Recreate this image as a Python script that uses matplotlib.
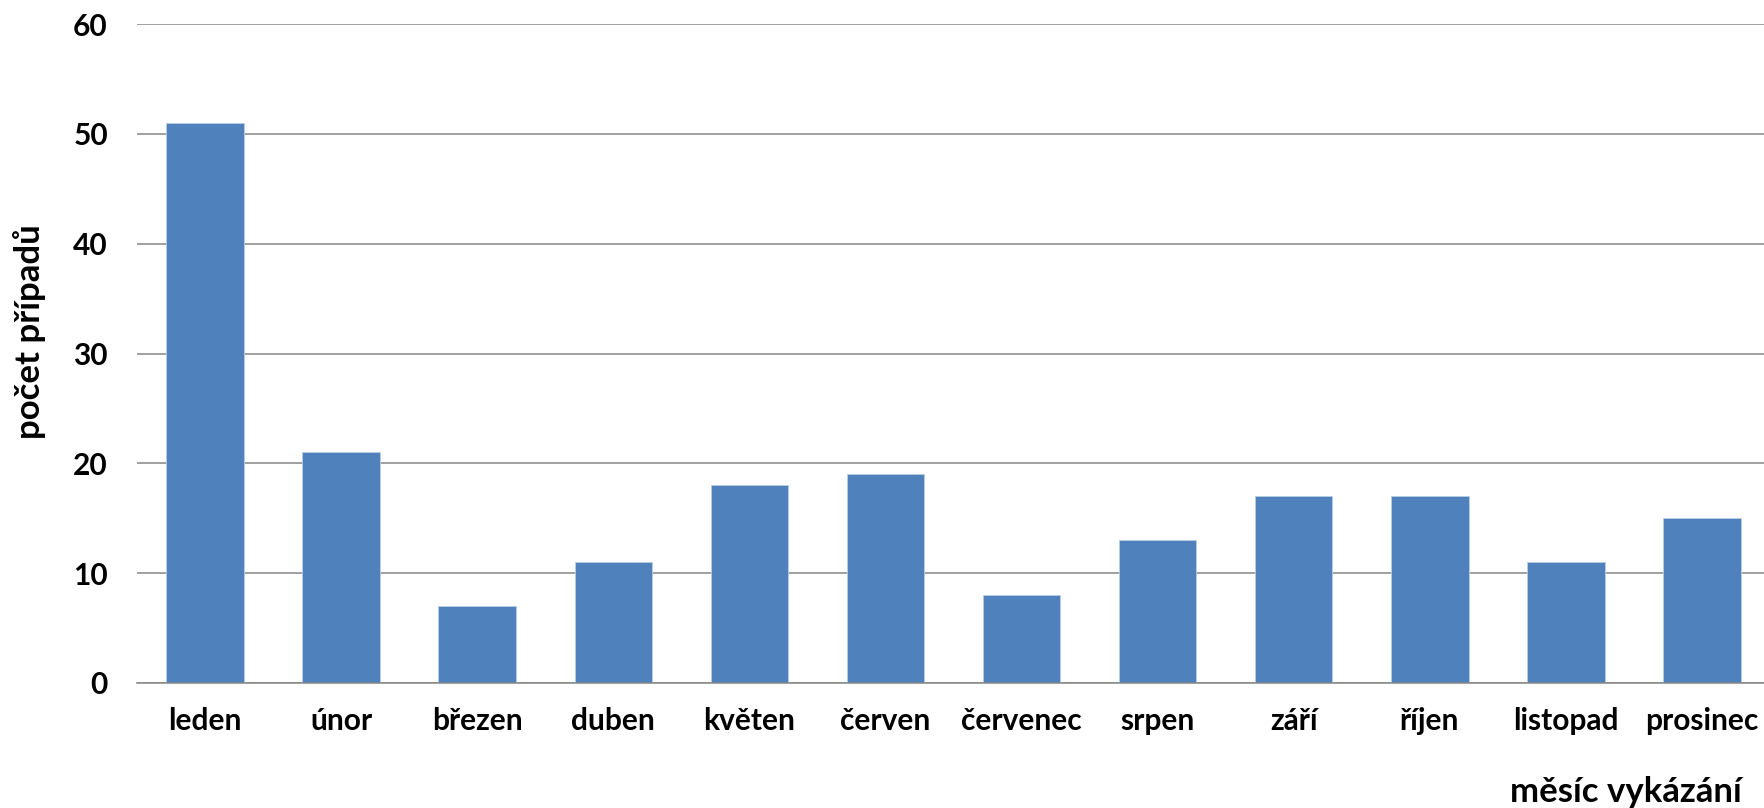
#!/usr/bin/env python3
"""Monthly case counts, bar chart (Excel-style)."""

import matplotlib
matplotlib.use("Agg")
import matplotlib.pyplot as plt
import numpy as np

# ── Data ───────────────────────────────────────────────────────────────────────

MONTHS = ["leden", "únor", "březen", "duben", "květen", "červen",
          "červenec", "srpen", "září", "říjen", "listopad", "prosinec"]
CASES = [51, 21, 7, 11, 18, 19, 8, 13, 17, 17, 11, 15]
Y_TICKS = [0, 10, 20, 30, 40, 50, 60]

BAR_COLOR = "#4F81BD"
GRID_COLOR = "#868686"
OUTPUT_PATH = "out.png"

plt.rcParams["font.family"] = ["Lato", "DejaVu Sans"]
plt.rcParams["font.weight"] = "bold"


def main():
    fig = plt.figure(figsize=(17.64, 8.08), dpi=100)
    # axes box in pixels: left 137, top 24, bottom 683, width ~1633
    ax = fig.add_axes([137 / 1764, 1 - 683 / 808, 1633 / 1764, 659 / 808])

    x = np.arange(len(MONTHS))
    ax.bar(x, CASES, 0.57, color=BAR_COLOR, edgecolor="#B9CDE5",
           linewidth=0.6, zorder=3)

    ax.set_xlim(-0.5, len(MONTHS) - 0.5)
    ax.set_ylim(0, 60)
    ax.set_yticks(Y_TICKS)
    ax.yaxis.grid(True, color=GRID_COLOR, linewidth=1.1, zorder=0)

    ax.set_xticks(x)
    ax.set_xticklabels(MONTHS, fontsize=21.5, fontweight="bold")
    ax.tick_params(axis="y", labelsize=21.5, length=0, pad=21)
    ax.tick_params(axis="x", length=0, pad=17)

    for side in ["top", "right", "left"]:
        ax.spines[side].set_visible(False)
    ax.spines["bottom"].set_color(GRID_COLOR)
    ax.spines["bottom"].set_linewidth(1.1)
    ax.spines["bottom"].set_zorder(4)

    ax.set_xlabel("měsíc vykázání", fontsize=25, fontweight="bold",
                  ha="right", va="center")
    ax.xaxis.set_label_coords(1605 / 1633, -109 / 659)
    ax.set_ylabel("počet případů", fontsize=25, fontweight="bold",
                  va="center", ha="center")
    ax.yaxis.set_label_coords(-107 / 1633, 351 / 659)

    fig.savefig(OUTPUT_PATH, dpi=100)
    print(f"Saved to {OUTPUT_PATH}")


if __name__ == "__main__":
    main()
